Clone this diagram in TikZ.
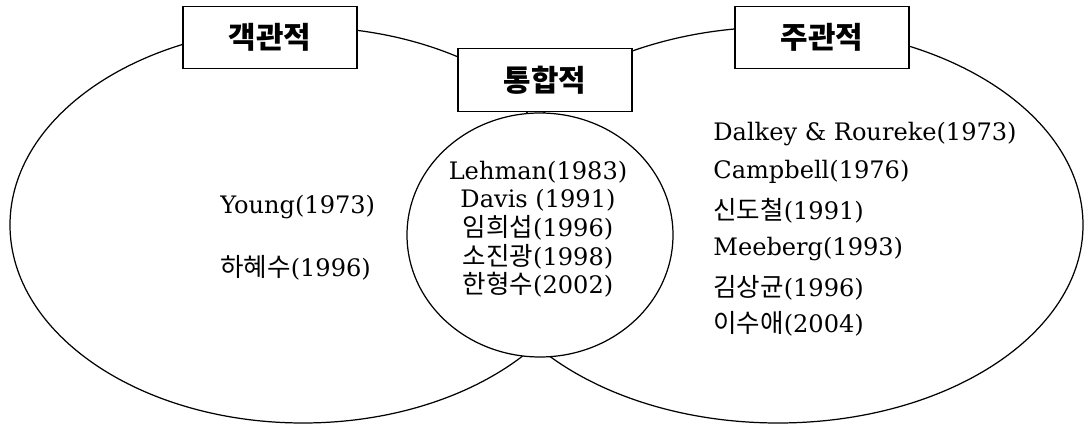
\documentclass[tikz,border=0pt]{standalone}
\usepackage{fontspec}
\setmainfont{DejaVu Serif}
\newfontfamily\kr{Noto Sans CJK KR}
\newfontfamily\krref[Scale=1.06]{Noto Sans CJK KR}
\usetikzlibrary{positioning, shapes.geometric}

\tikzset{
    area/.style={draw, ellipse, line width=0.7pt, inner sep=0pt},
    tagbox/.style={draw, fill=white, line width=0.7pt, minimum width=3.48cm, minimum height=1.25cm, inner sep=0pt, font=\kr\bfseries\fontsize{17}{19}\selectfont},
    ref/.style={inner sep=0pt, font=\fontsize{13.7}{16}\selectfont},
}

\begin{document}
\begin{tikzpicture}
    \useasboundingbox (0,0) rectangle (21.7,8.52);
    % the three areas
    \node[area, minimum width=11.72cm, minimum height=7.92cm] (objective) at (6.06,4.02) {};
    \node[area, minimum width=12.2cm, minimum height=7.92cm] (subjective) at (15.56,4.02) {};
    \node[area, fill=white, minimum width=5.32cm, minimum height=4.88cm] (integrated) at (10.8,3.82) {};
    % titles
    \node[tagbox] (objtag) at (5.4,7.77) {객관적};
    \node[tagbox] (subtag) at (16.44,7.77) {주관적};
    \node[tagbox] (inttag) at (10.9,6.92) {통합적};
    % left
    \node[ref, anchor=west] (young) at (4.4,4.38) {Young(1973)};
    \node[ref, anchor=west] (ha) at (4.4,3.16) {{\krref 하혜수}(1996)};
    % middle
    \node[ref] (lehman) at (10.76,5.08) {Lehman(1983)};
    \node[ref] (davis) at (10.76,4.52) {Davis (1991)};
    \node[ref] (lim) at (10.76,3.96) {{\krref 임희섭}(1996)};
    \node[ref] (so) at (10.76,3.38) {{\krref 소진광}(1998)};
    \node[ref] (han) at (10.76,2.82) {{\krref 한형수}(2002)};
    % right
    \node[ref, anchor=west] (dalkey) at (14.26,5.84) {Dalkey \& Roureke(1973)};
    \node[ref, anchor=west] (campbell) at (14.26,5.08) {Campbell(1976)};
    \node[ref, anchor=west] (shin) at (14.26,4.30) {{\krref 신도철}(1991)};
    \node[ref, anchor=west] (meeberg) at (14.26,3.54) {Meeberg(1993)};
    \node[ref, anchor=west] (kim) at (14.26,2.76) {{\krref 김상균}(1996)};
    \node[ref, anchor=west] (lee) at (14.26,2.04) {{\krref 이수애}(2004)};
\end{tikzpicture}
\end{document}
